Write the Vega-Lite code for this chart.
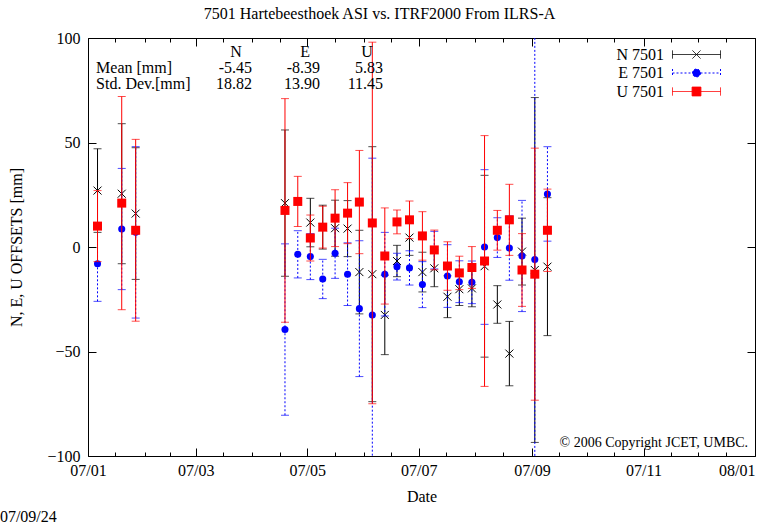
{
  "$schema": "https://vega.github.io/schema/vega-lite/v6.json",
  "width": 667,
  "height": 418,
  "autosize": {"type": "none"},
  "padding": {"left": 88, "top": 38, "right": 3, "bottom": 74},
  "background": "white",
  "title": {"text": "7501 Hartebeesthoek ASI vs. ITRF2000 From ILRS-A", "font": "Liberation Serif", "fontSize": 16, "fontWeight": "normal", "color": "black", "anchor": "middle", "offset": 8, "dx": -42},
  "config": {
    "view": {"stroke": "black", "strokeWidth": 1},
    "axis": {"domain": false, "grid": false, "labelFont": "Liberation Serif", "labelFontSize": 16, "labelColor": "black", "tickColor": "black", "tickWidth": 1, "titleFont": "Liberation Serif", "titleFontSize": 16, "titleFontWeight": "normal", "titleColor": "black", "labelOverlap": false}
  },
  "datasets": {
    "one": [{}],
    "obs": [
    {"series": "N 7501", "date": "2007-01-06T05:00:00Z", "v": 27, "err": 20},
    {"series": "N 7501", "date": "2007-01-19T11:00:00Z", "v": 25.5, "err": 33.5},
    {"series": "N 7501", "date": "2007-01-27T02:00:00Z", "v": 16, "err": 31.5},
    {"series": "N 7501", "date": "2007-04-18T19:00:00Z", "v": 21, "err": 35},
    {"series": "N 7501", "date": "2007-05-02T16:00:00Z", "v": 11.7, "err": 11.6},
    {"series": "N 7501", "date": "2007-05-09T11:00:00Z", "v": 9.5, "err": 10.5},
    {"series": "N 7501", "date": "2007-05-16T05:00:00Z", "v": 9, "err": 13.4},
    {"series": "N 7501", "date": "2007-05-23T01:00:00Z", "v": 8.8, "err": 13.4},
    {"series": "N 7501", "date": "2007-05-29T12:00:00Z", "v": -12, "err": 20},
    {"series": "N 7501", "date": "2007-06-05T14:00:00Z", "v": -13, "err": 61},
    {"series": "N 7501", "date": "2007-06-12T10:00:00Z", "v": -32.5, "err": 19},
    {"series": "N 7501", "date": "2007-06-19T02:00:00Z", "v": -6.7, "err": 7.5},
    {"series": "N 7501", "date": "2007-06-25T22:00:00Z", "v": 4.5, "err": 8.5},
    {"series": "N 7501", "date": "2007-07-03T00:00:00Z", "v": -12, "err": 9.5},
    {"series": "N 7501", "date": "2007-07-09T12:00:00Z", "v": -10.2, "err": 8.8},
    {"series": "N 7501", "date": "2007-07-16T17:00:00Z", "v": -23.8, "err": 10},
    {"series": "N 7501", "date": "2007-07-23T05:00:00Z", "v": -20.2, "err": 7.8},
    {"series": "N 7501", "date": "2007-07-30T02:00:00Z", "v": -19.8, "err": 8.8},
    {"series": "N 7501", "date": "2007-08-06T00:00:00Z", "v": -9.2, "err": 43.5},
    {"series": "N 7501", "date": "2007-08-13T00:00:00Z", "v": -27.5, "err": 9},
    {"series": "N 7501", "date": "2007-08-19T14:00:00Z", "v": -51, "err": 15.4},
    {"series": "N 7501", "date": "2007-08-26T12:00:00Z", "v": -2.2, "err": 16},
    {"series": "N 7501", "date": "2007-09-02T12:00:00Z", "v": -11, "err": 82.5},
    {"series": "N 7501", "date": "2007-09-09T10:00:00Z", "v": -9.4, "err": 33},
    {"series": "E 7501", "date": "2007-01-06T05:00:00Z", "v": -8, "err": 18},
    {"series": "E 7501", "date": "2007-01-19T11:00:00Z", "v": 8.6, "err": 29},
    {"series": "E 7501", "date": "2007-01-27T02:00:00Z", "v": 7, "err": 41},
    {"series": "E 7501", "date": "2007-04-18T19:00:00Z", "v": -39.5, "err": 41},
    {"series": "E 7501", "date": "2007-04-25T19:00:00Z", "v": -3.5, "err": 11.3},
    {"series": "E 7501", "date": "2007-05-02T16:00:00Z", "v": -4.6, "err": 11},
    {"series": "E 7501", "date": "2007-05-09T11:00:00Z", "v": -15.3, "err": 9.4},
    {"series": "E 7501", "date": "2007-05-16T05:00:00Z", "v": -3, "err": 12},
    {"series": "E 7501", "date": "2007-05-23T01:00:00Z", "v": -13, "err": 15},
    {"series": "E 7501", "date": "2007-05-29T12:00:00Z", "v": -29.5, "err": 32.5},
    {"series": "E 7501", "date": "2007-06-05T14:00:00Z", "v": -32.5, "err": 75},
    {"series": "E 7501", "date": "2007-06-12T10:00:00Z", "v": -13, "err": 20},
    {"series": "E 7501", "date": "2007-06-19T02:00:00Z", "v": -9.4, "err": 6.4},
    {"series": "E 7501", "date": "2007-06-25T22:00:00Z", "v": -10, "err": 8.2},
    {"series": "E 7501", "date": "2007-07-03T00:00:00Z", "v": -18, "err": 11},
    {"series": "E 7501", "date": "2007-07-09T12:00:00Z", "v": -1.5, "err": 9},
    {"series": "E 7501", "date": "2007-07-16T17:00:00Z", "v": -13.9, "err": 15},
    {"series": "E 7501", "date": "2007-07-23T05:00:00Z", "v": -16.6, "err": 10},
    {"series": "E 7501", "date": "2007-07-30T02:00:00Z", "v": -16.9, "err": 10.2},
    {"series": "E 7501", "date": "2007-08-06T00:00:00Z", "v": 0, "err": 37},
    {"series": "E 7501", "date": "2007-08-13T00:00:00Z", "v": 4.5, "err": 9.5},
    {"series": "E 7501", "date": "2007-08-19T14:00:00Z", "v": -0.5, "err": 15.4},
    {"series": "E 7501", "date": "2007-08-26T12:00:00Z", "v": -4.3, "err": 26.6},
    {"series": "E 7501", "date": "2007-09-02T12:00:00Z", "v": -6, "err": 115},
    {"series": "E 7501", "date": "2007-09-09T10:00:00Z", "v": 25.4, "err": 22.6},
    {"series": "U 7501", "date": "2007-01-06T05:00:00Z", "v": 10, "err": 17},
    {"series": "U 7501", "date": "2007-01-19T11:00:00Z", "v": 21, "err": 51},
    {"series": "U 7501", "date": "2007-01-27T02:00:00Z", "v": 8, "err": 43.5},
    {"series": "U 7501", "date": "2007-04-18T19:00:00Z", "v": 17.5, "err": 53.5},
    {"series": "U 7501", "date": "2007-04-25T19:00:00Z", "v": 21.8, "err": 12},
    {"series": "U 7501", "date": "2007-05-02T16:00:00Z", "v": 4.3, "err": 11},
    {"series": "U 7501", "date": "2007-05-09T11:00:00Z", "v": 9.5, "err": 10},
    {"series": "U 7501", "date": "2007-05-16T05:00:00Z", "v": 13.8, "err": 13.6},
    {"series": "U 7501", "date": "2007-05-23T01:00:00Z", "v": 16.2, "err": 14.6},
    {"series": "U 7501", "date": "2007-05-29T12:00:00Z", "v": 21.5, "err": 24.7},
    {"series": "U 7501", "date": "2007-06-05T14:00:00Z", "v": 11.5, "err": 86.5},
    {"series": "U 7501", "date": "2007-06-12T10:00:00Z", "v": -4.3, "err": 23},
    {"series": "U 7501", "date": "2007-06-19T02:00:00Z", "v": 12, "err": 5.7},
    {"series": "U 7501", "date": "2007-06-25T22:00:00Z", "v": 13, "err": 9},
    {"series": "U 7501", "date": "2007-07-03T00:00:00Z", "v": 5.3, "err": 11.6},
    {"series": "U 7501", "date": "2007-07-09T12:00:00Z", "v": -1.4, "err": 9.5},
    {"series": "U 7501", "date": "2007-07-16T17:00:00Z", "v": -9.1, "err": 11.6},
    {"series": "U 7501", "date": "2007-07-23T05:00:00Z", "v": -12.4, "err": 8},
    {"series": "U 7501", "date": "2007-07-30T02:00:00Z", "v": -9.8, "err": 10},
    {"series": "U 7501", "date": "2007-08-06T00:00:00Z", "v": -6.7, "err": 60},
    {"series": "U 7501", "date": "2007-08-13T00:00:00Z", "v": 8, "err": 9.5},
    {"series": "U 7501", "date": "2007-08-19T14:00:00Z", "v": 13, "err": 17},
    {"series": "U 7501", "date": "2007-08-26T12:00:00Z", "v": -11, "err": 17.4},
    {"series": "U 7501", "date": "2007-09-02T12:00:00Z", "v": -13, "err": 60.3},
    {"series": "U 7501", "date": "2007-09-09T10:00:00Z", "v": 8, "err": 19.7}
  ]},
  "resolve": {"axis": {"x": "independent", "y": "independent"}},
  "layer": [
    {
      "data": {"name": "obs"},
      "transform": [{"filter": "datum.series == 'N 7501'"}],
      "mark": {"type": "errorbar", "clip": true, "thickness": 1, "ticks": {"size": 8, "thickness": 1}},
      "encoding": {
        "x": {"field": "date", "type": "temporal", "axis": null, "scale": {"type": "utc", "domain": [{"year": 2007, "month": 1, "date": 1, "utc": true}, {"year": 2008, "month": 1, "date": 1, "utc": true}], "nice": false}},
        "y": {"field": "v", "type": "quantitative", "axis": null, "scale": {"domain": [-100, 100], "nice": false, "zero": false}},
        "yError": {"field": "err"},
        "color": {"field": "series", "type": "nominal", "scale": {"domain": ["N 7501", "E 7501", "U 7501"], "range": ["#000000", "#0000ff", "#ff0000"]},
          "legend": {"orient": "none", "legendX": 600, "legendY": 8, "title": null, "padding": 0, "labelFont": "Liberation Serif", "labelFontSize": 16, "labelColor": "black", "labelAlign": "right", "labelOffset": -41, "symbolSize": 256, "symbolStrokeWidth": 1, "rowPadding": 1.5,
            "encode": {"symbols": {"update": {
              "shape": {"signal": "datum.value == 'N 7501' ? 'M-3,0H3M-3,-0.5V0.5M3,-0.5V0.5M-0.5,-0.5L0.5,0.5M-0.5,0.5L0.5,-0.5' : (datum.value == 'E 7501' ? 'M-3,0H3M-3,-0.5V0.5M3,-0.5V0.5M0.5,0A0.5,0.5,0,1,1,-0.5,0A0.5,0.5,0,1,1,0.5,0Z' : 'M-3,0H3M-3,-0.5V0.5M3,-0.5V0.5M-0.55,-0.55H0.55V0.55H-0.55Z')"},
              "stroke": {"signal": "datum.value == 'N 7501' ? '#000000' : (datum.value == 'E 7501' ? '#0000ff' : '#ff0000')"},
              "fill": {"signal": "datum.value == 'N 7501' ? 'transparent' : (datum.value == 'E 7501' ? '#0000ff' : '#ff0000')"},
              "strokeDash": {"signal": "datum.value == 'E 7501' ? [2, 2] : [1, 0]"},
              "opacity": {"value": 1}
            }}}
          }
        }
      }
    },
    {
      "data": {"name": "obs"},
      "transform": [{"filter": "datum.series == 'N 7501'"}],
      "mark": {"type": "point", "shape": "M-1,-1L1,1M-1,1L1,-1", "size": 64, "filled": false, "strokeWidth": 1, "opacity": 1},
      "encoding": {
        "x": {"field": "date", "type": "temporal", "axis": {"orient": "bottom", "title": "Date", "titlePadding": 10, "format": "%y/%m", "tickSize": -8, "labelPadding": 14,
          "values": [{"year": 2007, "month": 1, "date": 1, "utc": true}, {"year": 2007, "month": 3, "date": 1, "utc": true}, {"year": 2007, "month": 5, "date": 1, "utc": true}, {"year": 2007, "month": 7, "date": 1, "utc": true}, {"year": 2007, "month": 9, "date": 1, "utc": true}, {"year": 2007, "month": 11, "date": 1, "utc": true}, {"year": 2008, "month": 1, "date": 1, "utc": true}],
          "labelAlign": {"condition": {"test": "datum.value > 1195000000000", "value": "right"}, "value": "center"}}},
        "y": {"field": "v", "type": "quantitative", "axis": {"orient": "left", "title": "N, E, U OFFSETS [mm]", "titlePadding": 22, "tickSize": -8, "labelPadding": 16, "values": [-100, -50, 0, 50, 100]}},
        "color": {"field": "series", "type": "nominal"}
      }
    },
    {
      "data": {"name": "obs"},
      "transform": [{"filter": "datum.series == 'E 7501'"}],
      "mark": {"type": "errorbar", "clip": true, "thickness": 1, "rule": {"strokeDash": [2, 2]}, "ticks": {"size": 8, "thickness": 1, "strokeDash": [2, 2]}},
      "encoding": {
        "x": {"field": "date", "type": "temporal", "axis": null},
        "y": {"field": "v", "type": "quantitative", "axis": null},
        "yError": {"field": "err"},
        "color": {"field": "series", "type": "nominal"}
      }
    },
    {
      "data": {"name": "obs"},
      "transform": [{"filter": "datum.series == 'E 7501'"}],
      "mark": {"type": "point", "shape": "circle", "size": 50, "filled": true, "opacity": 1},
      "encoding": {
        "x": {"field": "date", "type": "temporal", "axis": {"orient": "top", "title": null, "labels": false, "tickSize": -8,
          "values": [{"year": 2007, "month": 1, "date": 1, "utc": true}, {"year": 2007, "month": 3, "date": 1, "utc": true}, {"year": 2007, "month": 5, "date": 1, "utc": true}, {"year": 2007, "month": 7, "date": 1, "utc": true}, {"year": 2007, "month": 9, "date": 1, "utc": true}, {"year": 2007, "month": 11, "date": 1, "utc": true}, {"year": 2008, "month": 1, "date": 1, "utc": true}]}},
        "y": {"field": "v", "type": "quantitative", "axis": {"orient": "right", "title": null, "labels": false, "tickSize": -8, "values": [-100, -50, 0, 50, 100]}},
        "color": {"field": "series", "type": "nominal"}
      }
    },
    {
      "data": {"name": "obs"},
      "transform": [{"filter": "datum.series == 'U 7501'"}],
      "mark": {"type": "errorbar", "clip": true, "thickness": 1, "ticks": {"size": 8, "thickness": 1}},
      "encoding": {
        "x": {"field": "date", "type": "temporal", "axis": null},
        "y": {"field": "v", "type": "quantitative", "axis": null},
        "yError": {"field": "err"},
        "color": {"field": "series", "type": "nominal"}
      }
    },
    {
      "data": {"name": "obs"},
      "transform": [{"filter": "datum.series == 'U 7501'"}],
      "mark": {"type": "point", "shape": "square", "size": 81, "filled": true, "opacity": 1},
      "encoding": {
        "x": {"field": "date", "type": "temporal", "axis": {"orient": "bottom", "title": null, "labels": false, "tickSize": -4,
          "values": [{"year": 2007, "month": 1, "date": 16, "utc": true}, {"year": 2007, "month": 2, "date": 1, "utc": true}, {"year": 2007, "month": 2, "date": 15, "utc": true}, {"year": 2007, "month": 3, "date": 16, "utc": true}, {"year": 2007, "month": 4, "date": 1, "utc": true}, {"year": 2007, "month": 4, "date": 16, "utc": true}, {"year": 2007, "month": 5, "date": 16, "utc": true}, {"year": 2007, "month": 6, "date": 1, "utc": true}, {"year": 2007, "month": 6, "date": 16, "utc": true}, {"year": 2007, "month": 7, "date": 16, "utc": true}, {"year": 2007, "month": 8, "date": 1, "utc": true}, {"year": 2007, "month": 8, "date": 16, "utc": true}, {"year": 2007, "month": 9, "date": 16, "utc": true}, {"year": 2007, "month": 10, "date": 1, "utc": true}, {"year": 2007, "month": 10, "date": 16, "utc": true}, {"year": 2007, "month": 11, "date": 16, "utc": true}, {"year": 2007, "month": 12, "date": 1, "utc": true}, {"year": 2007, "month": 12, "date": 16, "utc": true}]}},
        "y": {"field": "v", "type": "quantitative", "axis": null},
        "color": {"field": "series", "type": "nominal"}
      }
    },
    {
      "data": {"name": "one"},
      "mark": {"type": "text", "align": "right", "baseline": "middle", "font": "Liberation Serif", "fontSize": 14, "fill": "black"},
      "encoding": {
        "x": {"datum": {"year": 2007, "month": 12, "date": 28, "hours": 5, "utc": true}, "type": "temporal", "axis": {"orient": "top", "title": null, "labels": false, "tickSize": -4,
          "values": [{"year": 2007, "month": 1, "date": 16, "utc": true}, {"year": 2007, "month": 2, "date": 1, "utc": true}, {"year": 2007, "month": 2, "date": 15, "utc": true}, {"year": 2007, "month": 3, "date": 16, "utc": true}, {"year": 2007, "month": 4, "date": 1, "utc": true}, {"year": 2007, "month": 4, "date": 16, "utc": true}, {"year": 2007, "month": 5, "date": 16, "utc": true}, {"year": 2007, "month": 6, "date": 1, "utc": true}, {"year": 2007, "month": 6, "date": 16, "utc": true}, {"year": 2007, "month": 7, "date": 16, "utc": true}, {"year": 2007, "month": 8, "date": 1, "utc": true}, {"year": 2007, "month": 8, "date": 16, "utc": true}, {"year": 2007, "month": 9, "date": 16, "utc": true}, {"year": 2007, "month": 10, "date": 1, "utc": true}, {"year": 2007, "month": 10, "date": 16, "utc": true}, {"year": 2007, "month": 11, "date": 16, "utc": true}, {"year": 2007, "month": 12, "date": 1, "utc": true}, {"year": 2007, "month": 12, "date": 16, "utc": true}]}},
        "y": {"datum": -93.8, "type": "quantitative", "axis": null},
        "text": {"value": "©  2006 Copyright JCET, UMBC."}
      }
    },
    {
      "data": {"name": "one"},
      "mark": {"type": "text", "align": "left", "baseline": "middle", "font": "Liberation Serif", "fontSize": 16, "fill": "black"},
      "encoding": {
        "x": {"datum": {"year": 2006, "month": 11, "date": 13, "hours": 19, "utc": true}, "type": "temporal", "axis": null},
        "y": {"datum": -129.2, "type": "quantitative", "axis": null},
        "text": {"value": "07/09/24"}
      }
    },
    {
      "data": {"name": "one"},
      "mark": {"type": "text", "align": "center", "baseline": "middle", "font": "Liberation Serif", "fontSize": 16, "fill": "black"},
      "encoding": {
        "x": {"datum": {"year": 2007, "month": 3, "date": 23, "utc": true}, "type": "temporal", "axis": null},
        "y": {"datum": 93.3, "type": "quantitative", "axis": null},
        "text": {"value": "N"}
      }
    },
    {
      "data": {"name": "one"},
      "mark": {"type": "text", "align": "center", "baseline": "middle", "font": "Liberation Serif", "fontSize": 16, "fill": "black"},
      "encoding": {
        "x": {"datum": {"year": 2007, "month": 4, "date": 29, "hours": 19, "utc": true}, "type": "temporal", "axis": null},
        "y": {"datum": 93.3, "type": "quantitative", "axis": null},
        "text": {"value": "E"}
      }
    },
    {
      "data": {"name": "one"},
      "mark": {"type": "text", "align": "center", "baseline": "middle", "font": "Liberation Serif", "fontSize": 16, "fill": "black"},
      "encoding": {
        "x": {"datum": {"year": 2007, "month": 6, "date": 2, "hours": 17, "utc": true}, "type": "temporal", "axis": null},
        "y": {"datum": 93.3, "type": "quantitative", "axis": null},
        "text": {"value": "U"}
      }
    },
    {
      "data": {"name": "one"},
      "mark": {"type": "text", "align": "left", "baseline": "top", "lineHeight": 16, "font": "Liberation Serif", "fontSize": 16, "fill": "black"},
      "encoding": {
        "x": {"datum": {"year": 2007, "month": 1, "date": 5, "hours": 10, "utc": true}, "type": "temporal", "axis": null},
        "y": {"datum": 89.5, "type": "quantitative", "axis": null},
        "text": {"value": ["Mean [mm]", "Std. Dev.[mm]"]}
      }
    },
    {
      "data": {"name": "one"},
      "mark": {"type": "text", "align": "right", "baseline": "top", "lineHeight": 16, "font": "Liberation Serif", "fontSize": 16, "fill": "black"},
      "encoding": {
        "x": {"datum": {"year": 2007, "month": 3, "date": 31, "hours": 19, "utc": true}, "type": "temporal", "axis": null},
        "y": {"datum": 89.5, "type": "quantitative", "axis": null},
        "text": {"value": ["-5.45", "18.82"]}
      }
    },
    {
      "data": {"name": "one"},
      "mark": {"type": "text", "align": "right", "baseline": "top", "lineHeight": 16, "font": "Liberation Serif", "fontSize": 16, "fill": "black"},
      "encoding": {
        "x": {"datum": {"year": 2007, "month": 5, "date": 8, "utc": true}, "type": "temporal", "axis": null},
        "y": {"datum": 89.5, "type": "quantitative", "axis": null},
        "text": {"value": ["-8.39", "13.90"]}
      }
    },
    {
      "data": {"name": "one"},
      "mark": {"type": "text", "align": "right", "baseline": "top", "lineHeight": 16, "font": "Liberation Serif", "fontSize": 16, "fill": "black"},
      "encoding": {
        "x": {"datum": {"year": 2007, "month": 6, "date": 11, "hours": 12, "utc": true}, "type": "temporal", "axis": null},
        "y": {"datum": 89.5, "type": "quantitative", "axis": null},
        "text": {"value": ["5.83", "11.45"]}
      }
    }
  ]
}
